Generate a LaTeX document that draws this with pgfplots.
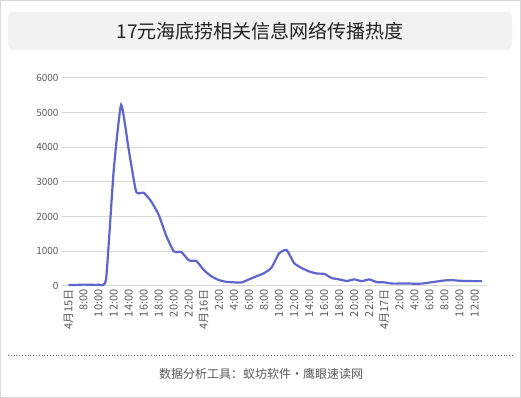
\documentclass[border=0pt]{standalone}
\usepackage{pgfplots}
\pgfplotsset{compat=1.18}
\usepackage{fontspec}
\setmainfont{Noto Sans CJK SC}
\definecolor{serie}{RGB}{92,102,204}
\definecolor{framec}{RGB}{217,217,217}
\definecolor{titlebg}{RGB}{242,242,242}
\definecolor{gridc}{RGB}{217,217,217}
\definecolor{ticktext}{RGB}{89,89,89}
\definecolor{titletext}{RGB}{34,34,34}
\begin{document}
\begin{tikzpicture}
\path[use as bounding box] (0pt,0pt) rectangle (521pt,398pt);
\draw[color=framec, line width=1pt] (0.5pt,0.5pt) rectangle (520.5pt,397.5pt);
\fill[titlebg, rounded corners=6pt] (8pt,348pt) rectangle (512pt,386pt);
\node[font=\fontsize{19}{22}\selectfont, text=titletext] at (260pt,367pt) {17元海底捞相关信息网络传播热度};
\begin{axis}[
  at={(62pt,112pt)}, anchor=south west,
  scale only axis, width=425pt, height=208pt,
  xmin=-0.86, xmax=55.65, ymin=0, ymax=6000,
  axis line style={draw=none},
  ymajorgrids, grid style={color=gridc, line width=1pt},
  major tick length=0pt,
  ytick={0,1000,...,6000},
  scaled y ticks=false,
  /pgf/number format/1000 sep={},
  /pgf/number format/assume math mode=true,
  yticklabel style={font=\fontsize{10}{12}\selectfont, text=ticktext},
  xtick={0,2,...,54},
  xticklabels={4月15日,8:00,10:00,12:00,14:00,16:00,18:00,20:00,22:00,4月16日,2:00,4:00,6:00,8:00,10:00,12:00,14:00,16:00,18:00,20:00,22:00,4月17日,2:00,4:00,6:00,8:00,10:00,12:00},
  xticklabel style={font=\fontsize{11}{13}\selectfont, text=ticktext, rotate=90, anchor=east},
  clip=false,
]
\addplot[color=serie, line width=2.2pt, smooth, tension=0.3] coordinates {
(0,30) (1,30) (2,40) (3,35) (4,40) (5,200) (6,3300) (7,5230) (8,3950) (9,2720)
(10,2690) (11,2440) (12,2050) (13,1450) (14,1000) (15,980) (16,740) (17,720) (18,460) (19,280)
(20,170) (21,120) (22,105) (23,100) (24,190) (25,280) (26,370) (27,530) (28,940) (29,1040)
(30,660) (31,520) (32,420) (33,360) (34,350) (35,230) (36,190) (37,145) (38,190) (39,140)
(40,190) (41,110) (42,105) (43,70) (44,70) (45,75) (46,65) (47,70) (48,100) (49,130)
(50,160) (51,170) (52,150) (53,145) (54,140) (55,140)
};
\end{axis}
\draw[dotted, color=ticktext, line width=0.8pt] (8pt,42.3pt) -- (513pt,42.3pt);
\node[font=\fontsize{12}{14}\selectfont, text=ticktext] at (261pt,24pt) {数据分析工具：蚁坊软件・鹰眼速读网};
\end{tikzpicture}
\end{document}
